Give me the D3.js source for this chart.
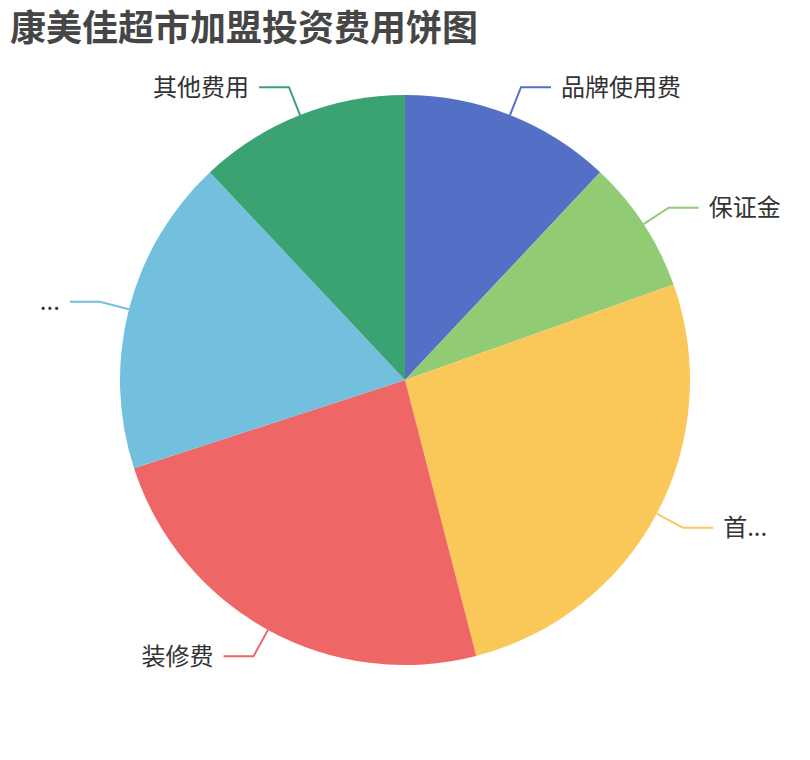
<!DOCTYPE html>
<html>
<head>
<meta charset="utf-8">
<script src="https://cdn.jsdelivr.net/npm/d3@7"></script>
<style>
  html, body { margin: 0; padding: 0; background: #fff; }
  svg { display: block; }
</style>
</head>
<body>
<svg id="chart" width="810" height="760"></svg>
<script>
const title = "康美佳超市加盟投资费用饼图";
const categories = ["品牌使用费", "保证金", "首...", "装修费", "...", "其他费用"];
const values = [10, 6.3, 22, 20, 15, 10];
const colors = ["#5470c6", "#91cc75", "#fac858", "#ee6666", "#73c0de", "#3ba272"];

const W = 810, H = 760;
const cx = 405, cy = 380, R = 285;
const len1 = 30, len2 = 30, gap = 10;

const svg = d3.select("#chart");
const font = "'Noto Sans CJK SC', 'Noto Sans', sans-serif";

svg.append("text")
  .attr("x", 10).attr("y", 25)
  .attr("dominant-baseline", "central")
  .attr("font-family", font)
  .attr("font-size", 36)
  .attr("font-weight", "bold")
  .attr("fill", "#464646")
  .text(title);

const data = categories.map((c, i) => ({ name: c, value: values[i], color: colors[i] }));
const pie = d3.pie().sort(null).value(d => d.value).startAngle(0).endAngle(2 * Math.PI);
const arcs = pie(data);

const arc = d3.arc().innerRadius(0).outerRadius(R);
const edgeArc = d3.arc().innerRadius(R).outerRadius(R);
const outArc = d3.arc().innerRadius(R + len1).outerRadius(R + len1);

const g = svg.append("g").attr("transform", `translate(${cx},${cy})`);

g.selectAll("path.slice")
  .data(arcs)
  .join("path")
  .attr("class", "slice")
  .attr("d", arc)
  .attr("fill", d => d.data.color);

const labels = g.append("g");
arcs.forEach(d => {
  const p0 = edgeArc.centroid(d);
  const p1 = outArc.centroid(d);
  const right = p1[0] >= 0;
  const p2 = [p1[0] + (right ? len2 : -len2), p1[1]];
  labels.append("polyline")
    .attr("points", [p0, p1, p2].map(p => p.join(",")).join(" "))
    .attr("fill", "none")
    .attr("stroke", d.data.color)
    .attr("stroke-width", 2);
  labels.append("text")
    .attr("x", p2[0] + (right ? gap : -gap))
    .attr("y", p2[1] - 2)
    .attr("dominant-baseline", "central")
    .attr("text-anchor", right ? "start" : "end")
    .attr("font-family", font)
    .attr("font-size", 24)
    .attr("fill", "#333")
    .text(d.data.name);
});
</script>
</body>
</html>
